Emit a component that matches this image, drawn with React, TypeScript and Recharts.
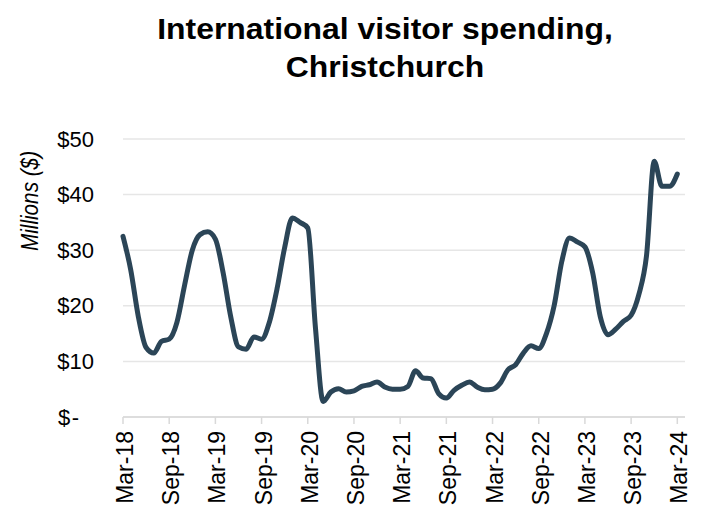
import React from "react";
import { LineChart, Line, XAxis, YAxis, CartesianGrid } from "recharts";

const months: string[] = [
  "Mar-18","Apr-18","May-18","Jun-18","Jul-18","Aug-18","Sep-18","Oct-18","Nov-18","Dec-18","Jan-19","Feb-19",
  "Mar-19","Apr-19","May-19","Jun-19","Jul-19","Aug-19","Sep-19","Oct-19","Nov-19","Dec-19","Jan-20","Feb-20",
  "Mar-20","Apr-20","May-20","Jun-20","Jul-20","Aug-20","Sep-20","Oct-20","Nov-20","Dec-20","Jan-21","Feb-21",
  "Mar-21","Apr-21","May-21","Jun-21","Jul-21","Aug-21","Sep-21","Oct-21","Nov-21","Dec-21","Jan-22","Feb-22",
  "Mar-22","Apr-22","May-22","Jun-22","Jul-22","Aug-22","Sep-22","Oct-22","Nov-22","Dec-22","Jan-23","Feb-23",
  "Mar-23","Apr-23","May-23","Jun-23","Jul-23","Aug-23","Sep-23","Oct-23","Nov-23","Dec-23","Jan-24","Feb-24",
  "Mar-24",
];

const spending: number[] = [
  32.5, 26.5, 18, 12.5, 11.5, 13.6, 14.0, 17, 23.7, 30, 32.8, 33.3,
  32, 26, 18, 12.6, 12.2, 14.4, 14.0, 17, 23, 30.5, 35.8, 35,
  34, 16, 2.8, 4.5, 5.1, 4.5, 4.7, 5.5, 5.8, 6.3, 5.4, 5.0,
  5.0, 5.5, 8.3, 7.0, 6.9, 4.2, 3.4, 4.8, 5.7, 6.3, 5.4, 4.9,
  5.0, 6.1, 8.5, 9.4, 11.5, 12.8, 12.3, 15, 20, 28, 32.2, 31.5,
  30.6, 26, 18, 14.8, 15.8, 17.2, 18.3, 22, 29, 46, 41.5, 41.5,
  43.7,
];

const xTickLabels: string[] = [
  "Mar-18","Sep-18","Mar-19","Sep-19","Mar-20","Sep-20","Mar-21","Sep-21","Mar-22","Sep-22","Mar-23","Sep-23","Mar-24",
];
const yTicks: number[] = [0, 10, 20, 30, 40, 50];

const data = months.map((m, i) => ({ i, month: m, value: spending[i] }));
const xTicks = xTickLabels.map((l) => months.indexOf(l));

const FONT = "Arial, 'Liberation Sans', Helvetica, sans-serif";

const XTick = (props: any) => {
  const { x, y, payload } = props;
  const label = months[payload.value] ?? "";
  const cx = x + 2;
  return (
    <text
      x={cx}
      y={y}
      transform={`rotate(-90 ${cx} ${y})`}
      textAnchor="end"
      dominantBaseline="central"
      fontSize={23}
      fontFamily={FONT}
      fill="#000"
    >
      {label}
    </text>
  );
};

const YTick = (props: any) => {
  const { y, payload } = props;
  const v = payload.value;
  if (v === 0) {
    return (
      <text x={58} y={y} textAnchor="start" dominantBaseline="central" fontSize={22} fontFamily={FONT} fill="#000" letterSpacing={1.5}>
        $-
      </text>
    );
  }
  return (
    <text x={94} y={y} textAnchor="end" dominantBaseline="central" fontSize={22} fontFamily={FONT} fill="#000">
      {`$${v}`}
    </text>
  );
};

export default function App() {
  return (
    <div style={{ position: "absolute", left: 0, top: 0, width: 701, height: 508, background: "#fff", fontFamily: FONT }}>
      <div
        style={{
          position: "absolute",
          left: 85,
          width: 600,
          top: 10,
          textAlign: "center",
          fontWeight: "bold",
          fontSize: 29,
          lineHeight: "38px",
          transform: "scaleX(1.1)",
          transformOrigin: "50% 50%",
          color: "#000",
        }}
      >
        International visitor spending,
        <br />
        Christchurch
      </div>
      <div
        style={{
          position: "absolute",
          left: 30,
          top: 201,
          transform: "translate(-50%, -50%) rotate(-90deg) scaleX(0.9)",
          fontStyle: "italic",
          fontSize: 23,
          whiteSpace: "nowrap",
          color: "#000",
        }}
      >
        Millions ($)
      </div>
      <div style={{ position: "absolute", left: 0, top: 0 }}>
        <LineChart width={701} height={508} data={data} margin={{ top: 139, right: 16, bottom: 0, left: 0 }}>
          <CartesianGrid horizontal vertical={false} stroke="#e6e6e6" strokeWidth={1.5} />
          <XAxis
            dataKey="i"
            type="number"
            domain={[0, 73]}
            ticks={xTicks}
            interval={0}
            height={91}
            tick={<XTick />}
            tickSize={7}
            tickMargin={7}
            axisLine={{ stroke: "#d9d9d9", strokeWidth: 1.5 }}
            tickLine={{ stroke: "#d9d9d9", strokeWidth: 1.5 }}
            allowDecimals={false}
          />
          <YAxis
            domain={[0, 50]}
            ticks={yTicks}
            interval={0}
            width={123}
            axisLine={false}
            tickLine={false}
            tick={<YTick />}
          />
          <Line
            type="monotone"
            dataKey="value"
            stroke="#2b4557"
            strokeWidth={5}
            dot={false}
            isAnimationActive={false}
            strokeLinecap="round"
            strokeLinejoin="round"
          />
        </LineChart>
      </div>
    </div>
  );
}
